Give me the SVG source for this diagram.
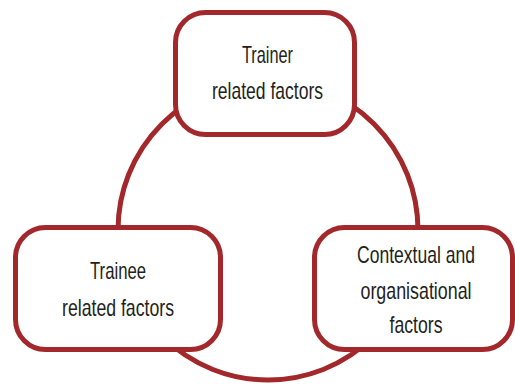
<svg xmlns="http://www.w3.org/2000/svg" width="515" height="384" viewBox="0 0 515 384">
<style>
.box{fill:#fff;stroke:#a3282b;stroke-width:5}
.ring{fill:none;stroke:#a3282b;stroke-width:5}
text{font-family:"Liberation Sans",Arial,sans-serif;font-size:24px;fill:#231f20;text-anchor:middle}
</style>
<rect width="515" height="384" fill="#fff"/>
<g id="connectors">
<circle class="ring" cx="268" cy="230" r="150"/>
</g>
<g id="trainer">
<rect class="box" x="175.5" y="12.5" width="179" height="122" rx="30"/>
<text x="267.5" y="63" textLength="51" lengthAdjust="spacingAndGlyphs">Trainer</text>
<text x="267.5" y="99" textLength="111" lengthAdjust="spacingAndGlyphs">related factors</text>
</g>
<g id="trainee">
<rect class="box" x="15.5" y="227.5" width="205" height="122" rx="30"/>
<text x="118" y="279" textLength="56" lengthAdjust="spacingAndGlyphs">Trainee</text>
<text x="118" y="316" textLength="112" lengthAdjust="spacingAndGlyphs">related factors</text>
</g>
<g id="contextual">
<rect class="box" x="314.5" y="227.5" width="198" height="122" rx="30"/>
<text x="416" y="263" textLength="118" lengthAdjust="spacingAndGlyphs">Contextual and</text>
<text x="416" y="299" textLength="111" lengthAdjust="spacingAndGlyphs">organisational</text>
<text x="416" y="333" textLength="53" lengthAdjust="spacingAndGlyphs">factors</text>
</g>
</svg>
